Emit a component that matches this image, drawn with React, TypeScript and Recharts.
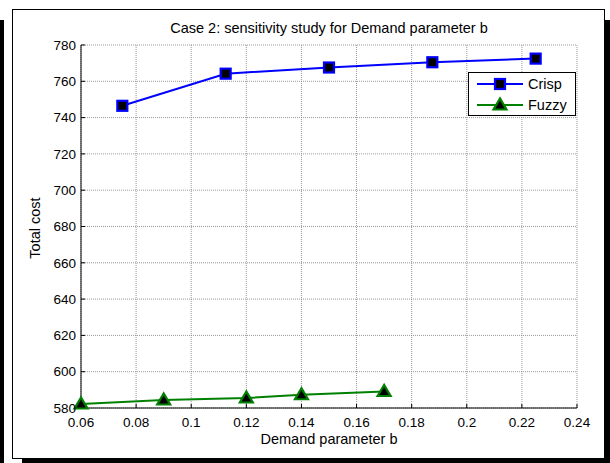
// Case 2 sensitivity chart: total cost vs demand parameter b
import { LineChart, Line, XAxis, YAxis, CartesianGrid } from 'recharts';

const crispB = [0.075, 0.1125, 0.15, 0.1875, 0.225];
const crispCost = [746.5, 764.2, 767.6, 770.5, 772.5];
const fuzzyB = [0.06, 0.09, 0.12, 0.14, 0.17];
const fuzzyCost = [582.2, 584.4, 585.5, 587.3, 589.1];

const xTicks = [0.06, 0.08, 0.1, 0.12, 0.14, 0.16, 0.18, 0.2, 0.22, 0.24];
const yTicks = [580, 600, 620, 640, 660, 680, 700, 720, 740, 760, 780];

const crispData = crispB.map((b, i) => ({ b, cost: crispCost[i] }));
const fuzzyData = fuzzyB.map((b, i) => ({ b, cost: fuzzyCost[i] }));

const FONT = '"Liberation Sans", Arial, sans-serif';
const BLUE = '#0000ff';
const GREEN = '#008000';

function SquareDot(props: any) {
  const { cx, cy } = props;
  if (cx == null || cy == null) return null;
  return <rect x={cx - 5} y={cy - 5} width={10} height={10} fill="#000" stroke={BLUE} strokeWidth={2.2} />;
}

function TriangleDot(props: any) {
  const { cx, cy } = props;
  if (cx == null || cy == null) return null;
  return (
    <polygon
      points={`${cx},${cy - 6.5} ${cx - 6.5},${cy + 4.5} ${cx + 6.5},${cy + 4.5}`}
      fill="#000"
      stroke={GREEN}
      strokeWidth={2.2}
      strokeLinejoin="miter"
    />
  );
}

function LegendBox() {
  return (
    <div
      style={{
        position: 'absolute',
        left: 468,
        top: 72,
        width: 108,
        height: 44,
        border: '1px solid #000',
        background: '#fff',
        boxSizing: 'border-box',
      }}
    >
      <svg width={106} height={42} style={{ display: 'block' }}>
        <line x1={8} y1={11} x2={54} y2={11} stroke={BLUE} strokeWidth={2} />
        <SquareDot cx={31} cy={11} />
        <text x={59} y={16} fontFamily={FONT} fontSize={14.5} fill="#000">Crisp</text>
        <line x1={8} y1={32} x2={54} y2={32} stroke={GREEN} strokeWidth={2} />
        <TriangleDot cx={31} cy={32} />
        <text x={59} y={37} fontFamily={FONT} fontSize={14.5} fill="#000">Fuzzy</text>
      </svg>
    </div>
  );
}

export default function App() {
  const tickStyle = { fill: '#000', fontSize: 13.5, fontFamily: FONT };
  return (
    <div style={{ position: 'absolute', left: 0, top: 0, width: 610, height: 463, background: '#fff', overflow: 'hidden' }}>
      {/* figure frame and shadow */}
      <div style={{ position: 'absolute', left: 12, top: 9, width: 593, height: 450, border: '1px solid #000', boxSizing: 'border-box' }} />
      <div style={{ position: 'absolute', left: 605, top: 20, width: 5, height: 443, background: '#000' }} />
      <div style={{ position: 'absolute', left: 22, top: 459, width: 588, height: 4, background: '#000' }} />
      <div style={{ position: 'absolute', left: 0, top: 20, width: 4, height: 443, background: '#000' }} />

      <div style={{ position: 'absolute', left: 81, width: 496, top: 20, textAlign: 'center', fontFamily: FONT, fontSize: 14.5 }}>
        Case 2: sensitivity study for Demand parameter b
      </div>
      <div style={{ position: 'absolute', left: 81, width: 496, top: 431, textAlign: 'center', fontFamily: FONT, fontSize: 14.5 }}>
        Demand parameter b
      </div>
      <div
        style={{
          position: 'absolute',
          left: 35,
          top: 228,
          transform: 'translate(-50%, -50%) rotate(-90deg)',
          fontFamily: FONT,
          fontSize: 14.5,
          whiteSpace: 'nowrap',
        }}
      >
        Total cost
      </div>

      <div style={{ position: 'absolute', left: 0, top: 0 }}>
        <LineChart width={610} height={463} margin={{ top: 45, right: 33, left: 21, bottom: 25 }}>
          <CartesianGrid stroke="#808080" strokeDasharray="1 1" strokeWidth={0.8} />
          <XAxis
            dataKey="b"
            type="number"
            domain={[0.06, 0.24]}
            ticks={xTicks}
            tickFormatter={(v: number) => String(Number(v.toFixed(2)))}
            allowDuplicatedCategory={false}
            height={30}
            stroke="#000"
            tick={tickStyle}
            tickSize={-4}
            tickMargin={13}
          />
          <XAxis xAxisId="top" orientation="top" type="number" domain={[0.06, 0.24]} ticks={xTicks} height={0} stroke="#000" tickSize={-4} tickFormatter={() => ''} />
          <YAxis
            type="number"
            domain={[580, 780]}
            ticks={yTicks}
            width={60}
            stroke="#000"
            tick={tickStyle}
            tickSize={-4}
            tickMargin={9}
          />
          <YAxis yAxisId="right" orientation="right" type="number" domain={[580, 780]} ticks={yTicks} width={0} stroke="#000" tickSize={-4} tickFormatter={() => ''} />
          <Line
            data={crispData}
            dataKey="cost"
            name="Crisp"
            stroke={BLUE}
            strokeWidth={2}
            dot={<SquareDot />}
            isAnimationActive={false}
          />
          <Line
            data={fuzzyData}
            dataKey="cost"
            name="Fuzzy"
            stroke={GREEN}
            strokeWidth={2}
            dot={<TriangleDot />}
            isAnimationActive={false}
          />
        </LineChart>
      </div>
      <LegendBox />
    </div>
  );
}
